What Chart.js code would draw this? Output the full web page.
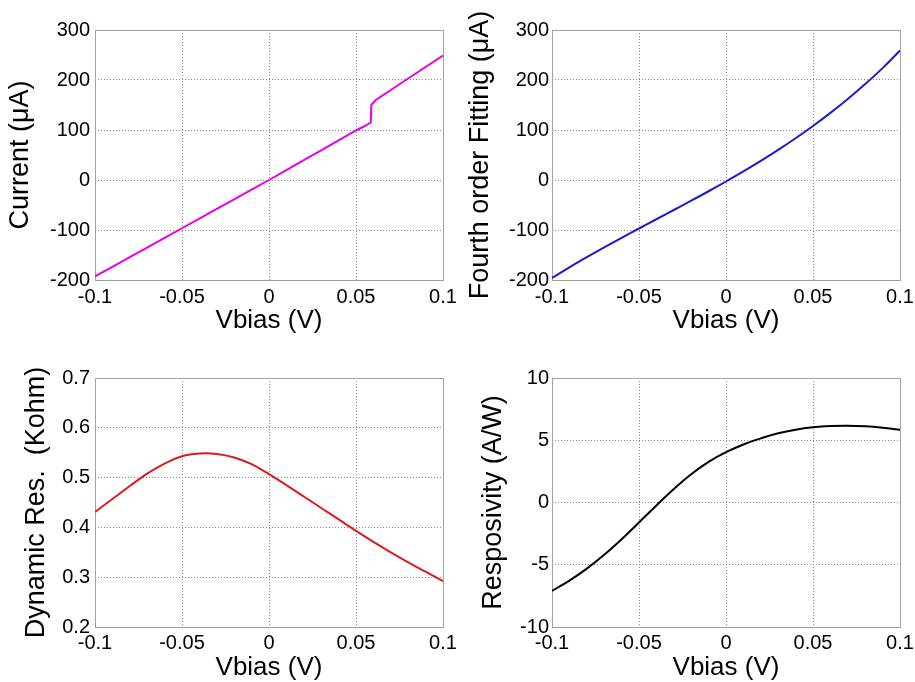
<!DOCTYPE html>
<html>
<head>
<meta charset="utf-8">
<script src="https://cdn.jsdelivr.net/npm/chart.js@4.4.1/dist/chart.umd.min.js"></script>
<style>
  html, body { margin: 0; padding: 0; background: #fff; overflow: hidden; width: 915px; height: 682px; }
  canvas { position: absolute; }
</style>
</head>
<body>
<canvas id="cCurrent" width="470" height="341" style="left:0px;top:0px"></canvas>
<canvas id="cFit" width="470" height="341" style="left:458px;top:0px"></canvas>
<canvas id="cRes" width="470" height="341" style="left:0px;top:341px"></canvas>
<canvas id="cResp" width="470" height="341" style="left:458px;top:341px"></canvas>
<script>
// Bias sweep (V) shared by the fitted / derived curves
const vbias = [-0.1, -0.09, -0.08, -0.07, -0.06, -0.05, -0.04, -0.03, -0.02, -0.01, 0,
               0.01, 0.02, 0.03, 0.04, 0.05, 0.06, 0.07, 0.08, 0.09, 0.1];

// Measured I-V (with the switching step near 0.059 V)
const measuredV = [-0.1, -0.09, -0.08, -0.07, -0.06, -0.05, -0.04, -0.03, -0.02, -0.01, 0,
                   0.01, 0.02, 0.03, 0.04, 0.05, 0.055, 0.0585, 0.0588, 0.0614, 0.07, 0.08, 0.09, 0.1];
const measuredI = [-193, -173.7, -154.4, -135.1, -115.8, -96.5, -77.2, -57.9, -38.6, -19.3, 0,
                   19.8, 39.6, 59.4, 79.2, 99, 108, 115, 150, 160, 180, 203, 226, 249];

// Fourth order polynomial fit of the I-V curve (uA)
const fittedI = [-196, -174.7, -154.4, -134.8, -115.7, -97, -78.5, -60, -41.4, -22.5, -3,
                 17.1, 38.1, 60.2, 83.4, 108, 134.2, 162.1, 191.9, 223.8, 259];

// Dynamic resistance dV/dI (kOhm)
const dynamicRes = [0.431, 0.457, 0.483, 0.508, 0.528, 0.543, 0.5485, 0.5475, 0.5405, 0.527, 0.507,
                    0.485, 0.462, 0.439, 0.416, 0.393, 0.371, 0.35, 0.33, 0.311, 0.292];

// Responsivity (A/W)
const responsivity = [-7.1, -6.27, -5.31, -4.2, -2.95, -1.6, -0.24, 1.08, 2.27, 3.26, 4.04,
                      4.66, 5.15, 5.56, 5.85, 6.04, 6.14, 6.17, 6.12, 6.01, 5.85];

// Axis ticks
const xTickValues = [-0.1, -0.05, 0, 0.05, 0.1];
const xTickLabels = ['-0.1', '-0.05', '0', '0.05', '0.1'];
const currentTickValues = [-200, -100, 0, 100, 200, 300];
const currentTickLabels = ['-200', '-100', '0', '100', '200', '300'];
const resTickValues = [0.2, 0.3, 0.4, 0.5, 0.6, 0.7];
const resTickLabels = ['0.2', '0.3', '0.4', '0.5', '0.6', '0.7'];
const respTickValues = [-10, -5, 0, 5, 10];
const respTickLabels = ['-10', '-5', '0', '5', '10'];

Chart.defaults.font.family = "'Liberation Sans', Arial, Helvetica, sans-serif";
Chart.defaults.color = '#000';

const GRID = '#8e8e8e';
const FRAME = '#a2a2a2';

// Solid box around the plotting area
const framePlugin = {
  id: 'frame',
  beforeDatasetsDraw(chart) {
    const { ctx, chartArea: a } = chart;
    ctx.save();
    ctx.strokeStyle = FRAME;
    ctx.lineWidth = 1;
    ctx.strokeRect(Math.round(a.left) + 0.5, Math.round(a.top) + 0.5,
                   Math.round(a.right) - Math.round(a.left), Math.round(a.bottom) - Math.round(a.top));
    ctx.restore();
  }
};

function panel(p) {
  const points = p.xs.map((x, i) => ({ x: x, y: p.ys[i] }));
  return new Chart(document.getElementById(p.id), {
    type: 'line',
    data: {
      datasets: [{
        data: points,
        borderColor: p.color,
        borderWidth: 2,
        pointRadius: 0,
        tension: p.smooth ? 0.4 : 0,
        fill: false
      }]
    },
    options: {
      responsive: false,
      animation: false,
      events: [],
      layout: { padding: { top: p.padTop, right: p.padRight, left: 0, bottom: 0 } },
      plugins: { legend: { display: false }, tooltip: { enabled: false } },
      scales: {
        x: {
          type: 'linear',
          min: -0.1,
          max: 0.1,
          afterBuildTicks: s => { s.ticks = xTickValues.map(v => ({ value: v })); },
          afterFit: s => { s.height = p.xHeight; },
          ticks: {
            autoSkip: false,
            maxRotation: 0,
            padding: p.xTickPad,
            font: { size: 20 },
            callback: (v, i) => xTickLabels[i]
          },
          grid: { color: GRID, lineWidth: 1, drawTicks: false },
          border: { display: false, dash: [1, 2] },
          title: {
            display: true,
            text: 'Vbias (V)',
            font: { size: 26, lineHeight: 1.1 },
            padding: { top: 0, bottom: p.xTitlePad }
          }
        },
        y: {
          type: 'linear',
          min: p.yTicks[0],
          max: p.yTicks[p.yTicks.length - 1],
          afterBuildTicks: s => { s.ticks = p.yTicks.map(v => ({ value: v })); },
          afterFit: s => { s.width = p.yWidth; },
          ticks: {
            autoSkip: false,
            padding: p.yTickPad,
            font: { size: 20 },
            callback: (v, i) => p.yLabels[i]
          },
          grid: { color: GRID, lineWidth: 1, drawTicks: false },
          border: { display: false, dash: [1, 2] },
          title: {
            display: true,
            text: p.yTitle,
            font: { size: 27, lineHeight: 1.1 },
            padding: { top: p.yTitlePad, bottom: 0 }
          }
        }
      }
    },
    plugins: [framePlugin]
  });
}

panel({
  id: 'cCurrent', xs: measuredV, ys: measuredI, color: '#e600e6', smooth: false,
  yTicks: currentTickValues, yLabels: currentTickLabels, yTitle: 'Current (\u03bcA)',
  yWidth: 95, yTickPad: 5, yTitlePad: 6, xHeight: 61, xTickPad: 5, xTitlePad: 5.7,
  padTop: 30, padRight: 27
});
panel({
  id: 'cFit', xs: vbias, ys: fittedI, color: '#1c1cc8', smooth: true,
  yTicks: currentTickValues, yLabels: currentTickLabels, yTitle: 'Fourth order Fitting (\u03bcA)',
  yWidth: 94, yTickPad: 3, yTitlePad: 8, xHeight: 61, xTickPad: 5, xTitlePad: 5.7,
  padTop: 30, padRight: 28
});
panel({
  id: 'cRes', xs: vbias, ys: dynamicRes, color: '#dc1c1c', smooth: true,
  yTicks: resTickValues, yLabels: resTickLabels, yTitle: 'Dynamic Res.  (Kohm)',
  yWidth: 95, yTickPad: 5, yTitlePad: 22, xHeight: 55, xTickPad: 4, xTitlePad: 0,
  padTop: 37, padRight: 27
});
panel({
  id: 'cResp', xs: vbias, ys: responsivity, color: '#000000', smooth: true,
  yTicks: respTickValues, yLabels: respTickLabels, yTitle: 'Resposivity (A/W)',
  yWidth: 94, yTickPad: 3, yTitlePad: 21, xHeight: 55, xTickPad: 4, xTitlePad: 0,
  padTop: 37, padRight: 28
});
</script>
</body>
</html>
